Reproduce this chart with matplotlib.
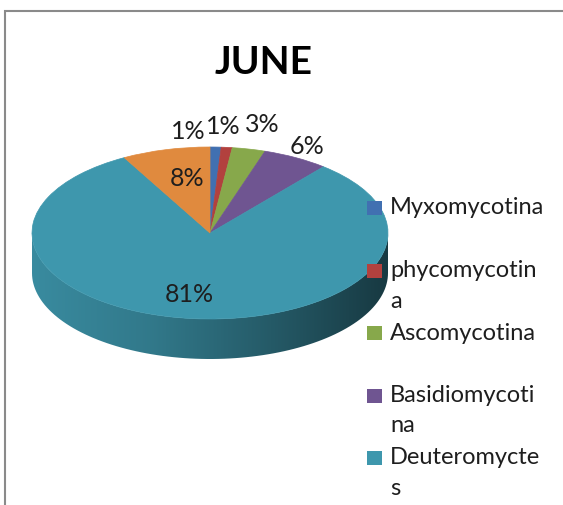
import numpy as np
import matplotlib
matplotlib.use("Agg")
import matplotlib.pyplot as plt
from matplotlib.patches import Polygon, Rectangle
from matplotlib.colors import LinearSegmentedColormap, to_rgb

# data (percent), clockwise from 12 o'clock
values = [1, 1, 3, 6, 81, 8]
names = ["Myxomycotina", "phycomycotina", "Ascomycotina", "Basidiomycotina", "Deuteromyctes"]
# legend labels as wrapped in the chart (the 6th entry is cut off by the frame)
legend_lines = [["Myxomycotina"], ["phycomycotin", "a"], ["Ascomycotina"],
                ["Basidiomycoti", "na"], ["Deuteromycte", "s"]]
colors = ["#4170B1", "#B2413E", "#87A84B", "#6F5591", "#3E97AD", "#E08A3E"]

# label placement (Excel "best fit" look)
label_dist = [1.19, 1.235, 1.29, 1.15, 0.73, 0.65]
label_nudge = [7.8, 2.0, -0.5, 0.4, -3.9, -3.0]

W, H = 563, 505
cx, cy = 210, 233      # pie centre, px from top-left
rx, ry = 178, 86       # ellipse radii, px
depth = 40 / ry        # side wall height in data units

plt.rcParams['font.family'] = ['Lato', 'DejaVu Sans']
fig = plt.figure(figsize=(W / 100, H / 100), dpi=100)
ax = fig.add_axes([0, 0, 1, 1])

wedges, _ = ax.pie(values, colors=colors, startangle=90, counterclock=False,
                   radius=1, wedgeprops=dict(linewidth=0.5))
for w, c in zip(wedges, colors):
    w.set_edgecolor(c)
    w.set_zorder(2)

# side wall: front half of each wedge, shaded left to right
for w, c in zip(wedges, colors):
    for k in (-360, 0, 360):
        a0 = max(w.theta1, 180 + k)
        a1 = min(w.theta2, 360 + k)
        if a1 <= a0:
            continue
        t = np.radians(np.linspace(a0, a1, 100))
        top = np.column_stack([np.cos(t), np.sin(t)])
        bot = np.column_stack([np.cos(t[::-1]), np.sin(t[::-1]) - depth])
        poly = Polygon(np.vstack([top, bot]), closed=True, fill=False, lw=0,
                       transform=ax.transData)
        ax.add_patch(poly)
        base = np.array(to_rgb(c))
        cmap = LinearSegmentedColormap.from_list(
            "wall", [base * 0.92, base * 0.8, base * 0.6, base * 0.38])
        grad = np.linspace(0, 1, 256).reshape(1, -1)
        im = ax.imshow(grad, cmap=cmap, extent=[-1, 1, -1 - depth, 0],
                       aspect="auto", zorder=1)
        im.set_clip_path(poly)

# percentage labels
for w, v, d, n in zip(wedges, values, label_dist, label_nudge):
    ang = np.radians((w.theta1 + w.theta2) / 2 + n)
    ax.text(d * np.cos(ang), d * np.sin(ang), f"{v}%", ha="center",
            va="center", fontsize=18, color="#1e1e1e", zorder=3)

ax.set_aspect("auto")
ax.set_xlim(-cx / rx, (W - cx) / rx)
ax.set_ylim(-(H - cy) / ry, cy / ry)
ax.axis("off")

# title
fig.text(264 / W, 1 - 63 / H, "JUNE", ha="center", va="center",
         fontsize=28, fontweight="bold", color="black")

# legend
for i, (lines, c) in enumerate(zip(legend_lines, colors)):
    y0 = 208 + 62.5 * i
    fig.patches.append(Rectangle((367 / W, 1 - (y0 + 7) / H), 15 / W, 14 / H,
                                 transform=fig.transFigure, facecolor=c,
                                 edgecolor="none"))
    for j, line in enumerate(lines):
        fig.text(390 / W, 1 - (y0 + 30.5 * j) / H, line, ha="left",
                 va="center", fontsize=17, color="#1e1e1e")

# chart frame
fig.patches.append(Rectangle((5 / W, -0.1), 1.2, 1 - 11 / H + 0.1,
                             transform=fig.transFigure, fill=False,
                             edgecolor="#8a8a8a", linewidth=1.5))

fig.savefig("out.png", dpi=100)
